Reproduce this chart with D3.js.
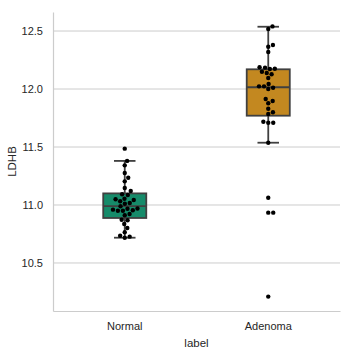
<!DOCTYPE html>
<html lang="en">
<head>
<meta charset="UTF-8">
<title>LDHB by label</title>
<script src="https://cdn.jsdelivr.net/npm/d3@7"></script>
<style>
  body { margin: 0; background: #fff; }
  text { font-family: "Liberation Sans", Arial, sans-serif; fill: #262626; }
</style>
</head>
<body>
<div id="chart"></div>
<script>
// categories
var categories = ["Normal", "Adenoma"];
// LDHB values per group
var normalValues = [11.486, 11.38, 11.342, 11.276, 11.235, 11.204, 11.147, 11.121, 11.092, 11.086,
    11.049, 11.043, 11.054, 11.032, 11.017, 11.011, 10.989, 10.968, 10.96, 10.951, 10.951, 10.955,
    10.97, 10.922, 10.911, 10.873, 10.868, 10.836, 10.802, 10.765, 10.727, 10.718, 10.735];
var adenomaValues = [12.54, 12.517, 12.38, 12.365, 12.319, 12.187, 12.172, 12.175, 12.184, 12.149,
    12.138, 12.127, 12.095, 12.043, 12.023, 12.023, 12.011, 12.0, 11.914, 11.897, 11.877, 11.83,
    11.799, 11.784, 11.709, 11.709, 11.718, 11.537, 11.063, 10.934, 10.934, 10.21];
// box statistics per group: [whisker low, q1, median, q3, whisker high]
var normalBox = [10.718, 10.888, 10.99, 11.10, 11.38];
var adenomaBox = [11.537, 11.77, 12.015, 12.17, 12.537];
var yTicks = [10.5, 11.0, 11.5, 12.0, 12.5];
var colors = ["#168b6a", "#c38820"];

var width = 352, height = 352,
    margin = {top: 12, right: 12, bottom: 41, left: 53};

var svg = d3.select("#chart").append("svg")
    .attr("width", width).attr("height", height);

var x = d3.scaleBand()
    .domain(categories)
    .range([margin.left, width - margin.right]);
var y = d3.scaleLinear()
    .domain([10.086, 12.664])
    .range([height - margin.bottom, margin.top]);

// grid
svg.append("g")
    .selectAll("line").data(yTicks).enter().append("line")
    .attr("x1", margin.left).attr("x2", width - margin.right)
    .attr("y1", function(d){ return y(d); }).attr("y2", function(d){ return y(d); })
    .attr("stroke", "#cccccc").attr("stroke-width", 1);

// y axis
var yAxis = svg.append("g")
    .attr("transform", "translate(" + margin.left + ",0)")
    .call(d3.axisLeft(y).tickValues(yTicks).tickFormat(d3.format(".1f")).tickSize(0).tickPadding(10));
yAxis.select(".domain").attr("stroke", "#cccccc").attr("stroke-width", 1.2);
yAxis.selectAll("text").style("font-size", "11px")
    .style("font-family", "Liberation Sans, Arial, sans-serif").attr("fill", "#262626");

// x axis
var xAxis = svg.append("g")
    .attr("transform", "translate(0," + (height - margin.bottom) + ")")
    .call(d3.axisBottom(x).tickSize(0).tickPadding(11));
xAxis.select(".domain").attr("stroke", "#cccccc").attr("stroke-width", 1.2);
xAxis.selectAll("text").style("font-size", "11px")
    .style("font-family", "Liberation Sans, Arial, sans-serif").attr("fill", "#262626");

// axis labels
svg.append("text")
    .attr("x", (margin.left + width - margin.right) / 2)
    .attr("y", height - 5)
    .attr("text-anchor", "middle")
    .style("font-size", "11.5px")
    .text("label");
svg.append("text")
    .attr("transform", "translate(16," + ((margin.top + height - margin.bottom) / 2) + ") rotate(-90)")
    .attr("text-anchor", "middle")
    .style("font-size", "11.5px")
    .text("LDHB");

// boxes
var boxes = [normalBox, adenomaBox];
var boxW = x.bandwidth() * 0.3;
var edge = "#404040";
boxes.forEach(function(b, i) {
    var cx = x(categories[i]) + x.bandwidth() / 2;
    var g = svg.append("g");
    g.append("line").attr("x1", cx).attr("x2", cx)
        .attr("y1", y(b[0])).attr("y2", y(b[1]))
        .attr("stroke", edge).attr("stroke-width", 1.8);
    g.append("line").attr("x1", cx).attr("x2", cx)
        .attr("y1", y(b[3])).attr("y2", y(b[4]))
        .attr("stroke", edge).attr("stroke-width", 1.8);
    [b[0], b[4]].forEach(function(v) {
        g.append("line").attr("x1", cx - boxW / 4).attr("x2", cx + boxW / 4)
            .attr("y1", y(v)).attr("y2", y(v))
            .attr("stroke", edge).attr("stroke-width", 1.8);
    });
    g.append("rect")
        .attr("x", cx - boxW / 2).attr("width", boxW)
        .attr("y", y(b[3])).attr("height", y(b[1]) - y(b[3]))
        .attr("fill", colors[i]).attr("stroke", edge).attr("stroke-width", 1.8);
    g.append("line").attr("x1", cx - boxW / 2).attr("x2", cx + boxW / 2)
        .attr("y1", y(b[2])).attr("y2", y(b[2]))
        .attr("stroke", edge).attr("stroke-width", 1.8);
});

// swarm points
var r = 2.2, dia = 2 * r + 0.6;
function swarm(vals, cx) {
    var sorted = vals.slice().sort(function(a, b){ return a - b; });
    var placed = [];
    sorted.forEach(function(v) {
        var py = y(v);
        var near = placed.filter(function(p){ return Math.abs(p.y - py) < dia; });
        var cands = [0];
        near.forEach(function(p) {
            var dx = Math.sqrt(dia * dia - (p.y - py) * (p.y - py));
            cands.push(p.dx + dx, p.dx - dx);
        });
        cands.sort(function(a, b){ return Math.abs(a) - Math.abs(b); });
        var best = cands.find(function(c) {
            return near.every(function(p) {
                var ddx = p.dx - c, ddy = p.y - py;
                return ddx * ddx + ddy * ddy >= dia * dia - 0.01;
            });
        });
        placed.push({dx: best, y: py});
    });
    return placed.map(function(p){ return {x: cx + p.dx, y: p.y}; });
}
[normalValues, adenomaValues].forEach(function(vals, i) {
    var cx = x(categories[i]) + x.bandwidth() / 2;
    svg.append("g").selectAll("circle").data(swarm(vals, cx)).enter().append("circle")
        .attr("cx", function(d){ return d.x; })
        .attr("cy", function(d){ return d.y; })
        .attr("r", r)
        .attr("fill", "#000");
});
</script>
</body>
</html>
